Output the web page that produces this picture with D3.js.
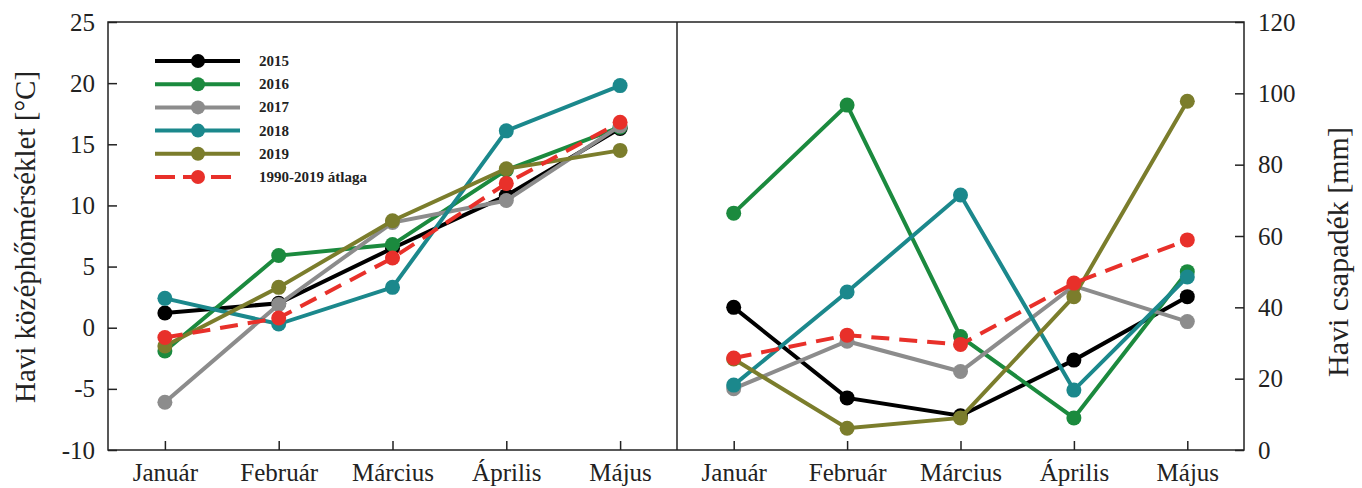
<!DOCTYPE html>
<html lang="hu">
<head>
<meta charset="utf-8">
<title>Havi középhőmérséklet és csapadék</title>
<script src="https://cdn.jsdelivr.net/npm/d3@7"></script>
<style>
  body { margin: 0; background: #fff; }
  svg text { font-family: "Liberation Serif", "DejaVu Serif", serif; fill: #222; }
</style>
</head>
<body>
<div id="chart"></div>
<script>
// months on both panels
var months = ['Január', 'Február', 'Március', 'Április', 'Május'];
var seriesNames = ['2015', '2016', '2017', '2018', '2019', '1990-2019 átlaga'];
var seriesColors = ['#000000', '#1b8a3e', '#8c8c8c', '#1b888c', '#7b7d2c', '#e8302a'];

// monthly mean temperature [°C]
var temp2015 = [1.2, 2.0, 6.5, 10.8, 16.3];
var temp2016 = [-1.9, 5.9, 6.8, 12.9, 16.4];
var temp2017 = [-6.1, 1.9, 8.6, 10.4, 16.5];
var temp2018 = [2.4, 0.3, 3.3, 16.1, 19.8];
var temp2019 = [-1.5, 3.3, 8.75, 13.0, 14.5];
var tempAvg = [-0.8, 0.8, 5.7, 11.8, 16.8];

// monthly precipitation [mm]
var prec2015 = [40, 14.6, 9.6, 25.2, 43];
var prec2016 = [66.4, 96.7, 31.8, 9.0, 50];
var prec2017 = [17.2, 30.5, 22, 46, 36];
var prec2018 = [18.2, 44.3, 71.5, 16.8, 48.5];
var prec2019 = [25.5, 6.1, 9.0, 43, 97.8];
var precAvg = [25.8, 32.2, 29.6, 46.8, 58.9];

var tempTicks = [-10, -5, 0, 5, 10, 15, 20, 25];
var precTicks = [0, 20, 40, 60, 80, 100, 120];

var tempSeries = [temp2015, temp2016, temp2017, temp2018, temp2019, tempAvg];
var precSeries = [prec2015, prec2016, prec2017, prec2018, prec2019, precAvg];

var width = 1362, height = 488;
var plotTop = 22, plotBottom = 450;
var leftX0 = 108, midX = 677, rightX1 = 1244;

var svg = d3.select('#chart').append('svg')
    .attr('width', width)
    .attr('height', height);

var xLeft = d3.scalePoint().domain(months).range([leftX0, midX]).padding(0.5);
var xRight = d3.scalePoint().domain(months).range([midX, rightX1]).padding(0.5);
var yTemp = d3.scaleLinear().domain([-10, 25]).range([plotBottom, plotTop]);
var yPrec = d3.scaleLinear().domain([0, 120]).range([plotBottom, plotTop]);

// axes (ticks point inward)
var axLeft = svg.append('g').attr('transform', 'translate(' + leftX0 + ',0)')
    .call(d3.axisLeft(yTemp).tickValues(tempTicks).tickSize(-9).tickPadding(13));
var axRight = svg.append('g').attr('transform', 'translate(' + rightX1 + ',0)')
    .call(d3.axisRight(yPrec).tickValues(precTicks).tickSize(-9).tickPadding(14));
var axBotL = svg.append('g').attr('transform', 'translate(0,' + plotBottom + ')')
    .call(d3.axisBottom(xLeft).tickSize(-9).tickPadding(13));
var axBotR = svg.append('g').attr('transform', 'translate(0,' + plotBottom + ')')
    .call(d3.axisBottom(xRight).tickSize(-9).tickPadding(13));

[axLeft, axRight, axBotL, axBotR].forEach(function (ax) {
    ax.select('.domain').remove();
    ax.selectAll('.tick line').attr('stroke', '#222').attr('stroke-width', 1.5);
    ax.selectAll('.tick text').attr('font-size', 25).attr('fill', '#222')
        .style('font-family', '"Liberation Serif", serif');
});
// plain hyphen for negative values, like the original
axLeft.selectAll('.tick text').text(function (d) { return String(d); });

// frame
svg.append('rect')
    .attr('x', leftX0).attr('y', plotTop)
    .attr('width', rightX1 - leftX0).attr('height', plotBottom - plotTop)
    .attr('fill', 'none').attr('stroke', '#222').attr('stroke-width', 1.5);
svg.append('line')
    .attr('x1', midX).attr('x2', midX).attr('y1', plotTop).attr('y2', plotBottom)
    .attr('stroke', '#222').attr('stroke-width', 1.5);

// axis titles
svg.append('text')
    .attr('transform', 'translate(35,237) rotate(-90)')
    .attr('text-anchor', 'middle').attr('font-size', 29)
    .text('Havi középhőmérséklet [°C]');
svg.append('text')
    .attr('transform', 'translate(1348,252) rotate(-90)')
    .attr('text-anchor', 'middle').attr('font-size', 30)
    .text('Havi csapadék [mm]');

function drawPanel(series, x, y) {
    var line = d3.line()
        .x(function (d, i) { return x(months[i]); })
        .y(function (d) { return y(d); });
    series.forEach(function (vals, k) {
        var g = svg.append('g');
        g.append('path')
            .datum(vals)
            .attr('d', line)
            .attr('fill', 'none')
            .attr('stroke', seriesColors[k])
            .attr('stroke-width', 4)
            .attr('stroke-dasharray', k === 5 ? '18,10' : null);
        g.selectAll('circle')
            .data(vals)
            .enter()
            .append('circle')
            .attr('cx', function (d, i) { return x(months[i]); })
            .attr('cy', function (d) { return y(d); })
            .attr('r', 7.5)
            .attr('fill', seriesColors[k]);
    });
}

drawPanel(tempSeries, xLeft, yTemp);
drawPanel(precSeries, xRight, yPrec);

// legend
var legend = svg.append('g').attr('transform', 'translate(155,61)');
seriesNames.forEach(function (name, k) {
    var row = legend.append('g').attr('transform', 'translate(0,' + (k * 23.2) + ')');
    row.append('line')
        .attr('x1', 0).attr('x2', k === 5 ? 76 : 85).attr('y1', 0).attr('y2', 0)
        .attr('stroke', seriesColors[k]).attr('stroke-width', 4)
        .attr('stroke-dasharray', k === 5 ? '20,8' : null);
    row.append('circle').attr('cx', 43).attr('cy', 0).attr('r', 7)
        .attr('fill', seriesColors[k]);
    row.append('text').attr('x', 104).attr('y', 5)
        .attr('font-size', 15).attr('font-weight', 'bold').attr('fill', '#333')
        .text(name);
});
</script>
</body>
</html>
